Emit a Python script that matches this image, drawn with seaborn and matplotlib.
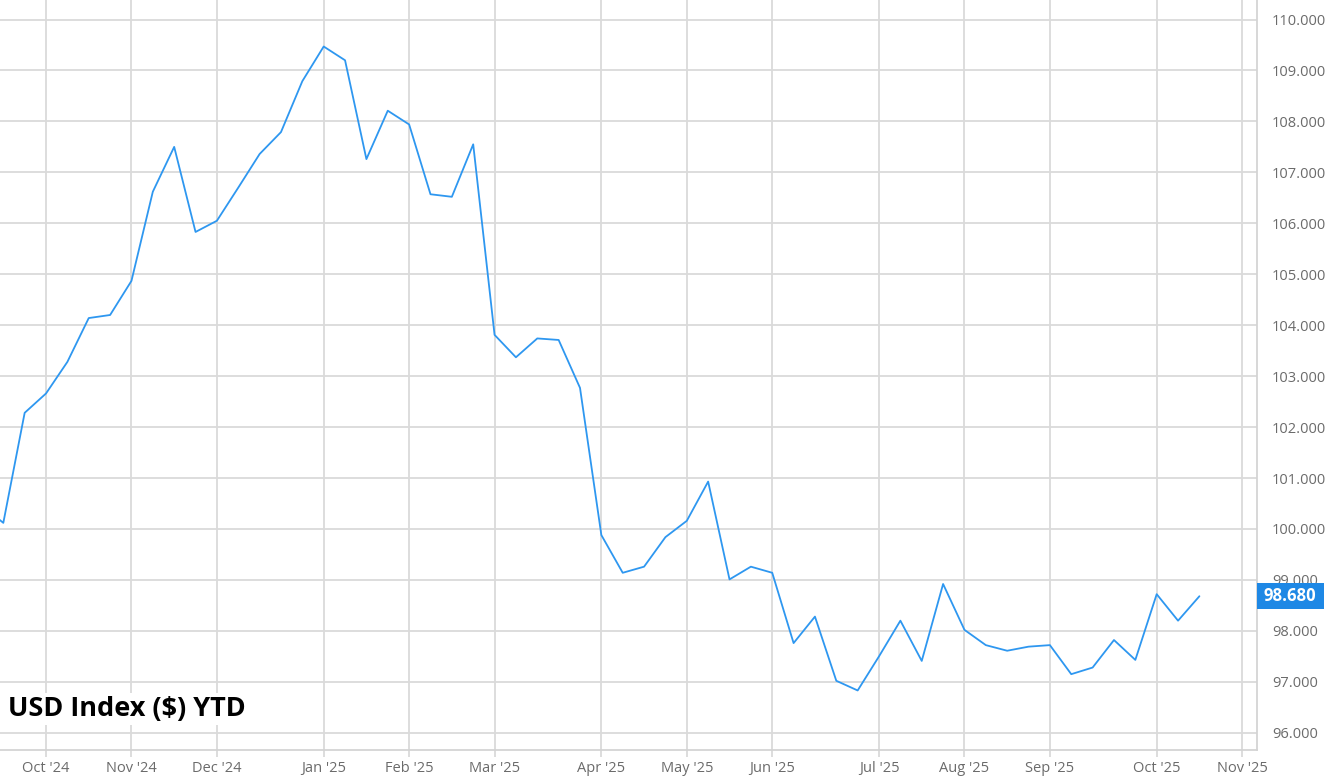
import numpy as np
import pandas as pd
import seaborn as sns
import matplotlib.pyplot as plt
import matplotlib.transforms as mtransforms
from matplotlib.patches import Rectangle

# weekly closes of the USD index, first value sits just off the left edge
usd_index = [100.46, 100.12, 102.28, 102.66, 103.28, 104.14, 104.20, 104.87, 106.62, 107.50,
             105.83, 106.05, 106.70, 107.36, 107.79, 108.79, 109.47, 109.20, 107.26, 108.21,
             107.94, 106.57, 106.52, 107.55, 103.81, 103.37, 103.74, 103.71, 102.77, 99.88,
             99.14, 99.26, 99.84, 100.16, 100.93, 99.01, 99.26, 99.14, 97.76, 98.28,
             97.02, 96.83, 97.50, 98.20, 97.41, 98.92, 98.02, 97.72, 97.61, 97.69,
             97.72, 97.15, 97.28, 97.82, 97.43, 98.72, 98.20, 98.68]
week_start = '2024-09-16'
month_labels = ["Oct '24", "Nov '24", "Dec '24", "Jan '25", "Feb '25", "Mar '25", "Apr '25",
                "May '25", "Jun '25", "Jul '25", "Aug '25", "Sep '25", "Oct '25", "Nov '25"]
y_ticks = [96, 97, 98, 99, 100, 101, 102, 103, 104, 105, 106, 107, 108, 109, 110]
title = 'USD Index ($) YTD'

weeks = pd.date_range(week_start, periods=len(usd_index), freq='W-MON')
t0 = weeks[1]
df = pd.DataFrame({'week': weeks, 'value': usd_index})
df['pos'] = (df['week'] - t0).dt.days // 7

# gridline goes on the first weekly point of each month
month_starts = pd.date_range('2024-10-01', periods=len(month_labels), freq='MS')
tick_pos = [-(-(ms - t0).days // 7) for ms in month_starts]

sns.set_style('whitegrid')
plt.rcParams['font.family'] = ['Open Sans', 'DejaVu Sans']

fig = plt.figure(figsize=(13.38, 7.84), dpi=100)
ax = fig.add_axes([0.0, 0.0434, 0.9392, 0.9566])

sns.lineplot(data=df, x='pos', y='value', color='#2e97f0', linewidth=1.3, ax=ax)

ax.set_xlim(-0.155, 58.68)
ax.set_ylim(95.662, 110.383)
ax.set_xticks(tick_pos)
ax.set_xticklabels(month_labels)
ax.set_yticks(y_ticks)
ax.set_yticklabels([f'{v:.3f}' for v in y_ticks])
ax.yaxis.tick_right()
ax.set_xlabel('')
ax.set_ylabel('')

ax.grid(True, color='#dadada', linewidth=1.3)
ax.tick_params(axis='x', colors='#dadada', labelcolor='#6b6b6b', labelsize=10.5,
               length=5, width=1.3, pad=3, bottom=True)
ax.tick_params(axis='y', labelcolor='#6b6b6b', labelsize=10.5, length=0, pad=11)
for side in ['top', 'left']:
    ax.spines[side].set_visible(False)
for side in ['bottom', 'right']:
    ax.spines[side].set_color('#d4d4d4')
    ax.spines[side].set_linewidth(1.3)

# last value flag on the right axis
last = usd_index[-1]
trans = mtransforms.blended_transform_factory(ax.transAxes, ax.transData)
px_per_unit = ax.bbox.height / (110.383 - 95.662)
box_w = 67 / ax.bbox.width
box_h = 26 / px_per_unit
ax.add_patch(Rectangle((1.0, last - box_h / 2), box_w, box_h, transform=trans,
                       facecolor='#1e88e5', edgecolor='none', clip_on=False, zorder=5))
ax.text(1.0 + box_w / 2, last, f'{last:.3f}', transform=trans, ha='center', va='center',
        color='white', fontsize=12, fontweight='bold', clip_on=False, zorder=6)

fig.text(8 / 1338, 1 - 709 / 784, title, ha='left', va='center', fontsize=19.5,
         fontweight='bold', color='black',
         bbox=dict(boxstyle='square,pad=0.1', facecolor='white', edgecolor='none'))

fig.savefig('out.png', dpi=100)
